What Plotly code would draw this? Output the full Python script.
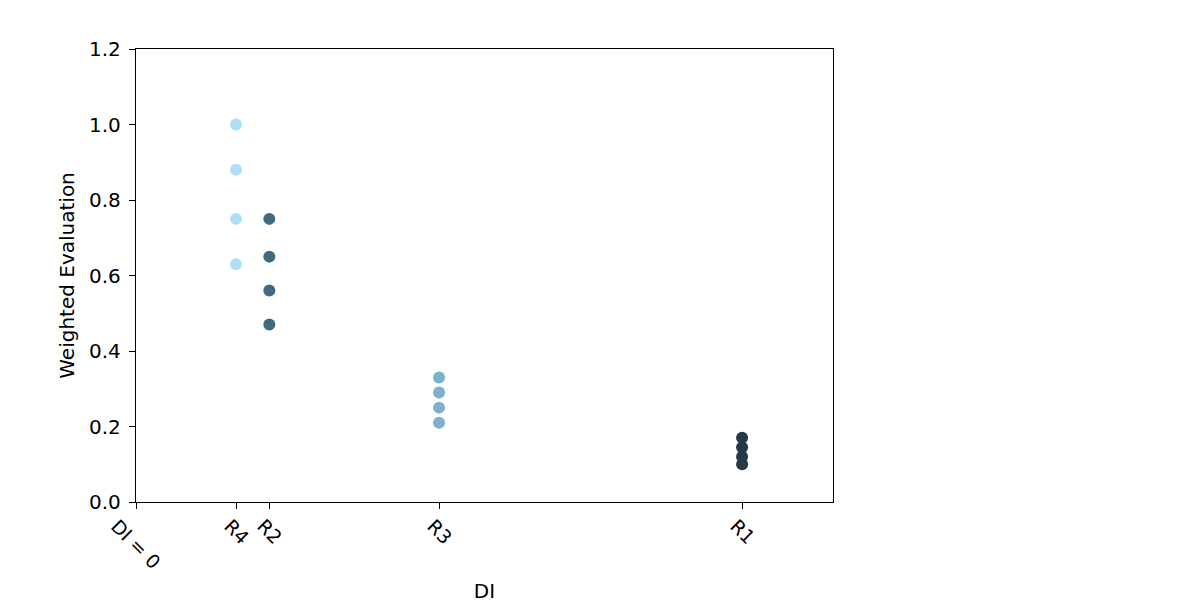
import plotly.graph_objects as go

# DI position of each alternative and its weighted evaluations
labels = ["R4", "R2", "R3", "R1"]
di_values = [0.165, 0.22, 0.50, 1.0]
evaluations = [
    [1.00, 0.88, 0.75, 0.63],
    [0.75, 0.65, 0.56, 0.47],
    [0.33, 0.29, 0.25, 0.21],
    [0.17, 0.145, 0.12, 0.10],
]
colors = ["#afdff6", "#416a80", "#7bb3cf", "#243a46"]

tick_vals = [0] + di_values
tick_text = ["DI = 0"] + labels

fig = go.Figure()

for lab, di, ev, col in zip(labels, di_values, evaluations, colors):
    fig.add_trace(go.Scatter(
        x=[di] * len(ev), y=ev,
        mode="markers",
        marker=dict(size=12, color=col),
        name=lab,
        showlegend=False,
    ))

# rotated x tick labels, centred on their ticks (matplotlib style)
for v, t in zip(tick_vals, tick_text):
    fig.add_annotation(
        x=v, y=0, xref="x", yref="paper",
        text=t, textangle=45, showarrow=False,
        xanchor="center", yanchor="top", yshift=-10,
        font=dict(size=19, color="black"),
    )

axis_common = dict(
    showgrid=False, zeroline=False, automargin=False,
    showline=True, linecolor="black", linewidth=1.4, mirror=True,
    ticks="outside", ticklen=6, tickcolor="black", tickwidth=1.4,
    tickfont=dict(size=20, color="black"),
)

fig.update_layout(
    width=1196, height=603,
    margin=dict(l=128, r=371, t=41, b=109),
    paper_bgcolor="white", plot_bgcolor="white",
    font=dict(family="DejaVu Sans", size=19, color="black"),
    xaxis=dict(
        range=[0, 1.15], tickvals=tick_vals, showticklabels=False,
        title=dict(text="DI", standoff=75, font=dict(size=20)),
        **axis_common,
    ),
    yaxis=dict(
        range=[0, 1.2], tickvals=[0, 0.2, 0.4, 0.6, 0.8, 1.0, 1.2],
        tickformat=".1f", ticklabelstandoff=4,
        title=dict(text="Weighted Evaluation", standoff=8, font=dict(size=20)),
        **axis_common,
    ),
)

fig.write_html("out.html")
